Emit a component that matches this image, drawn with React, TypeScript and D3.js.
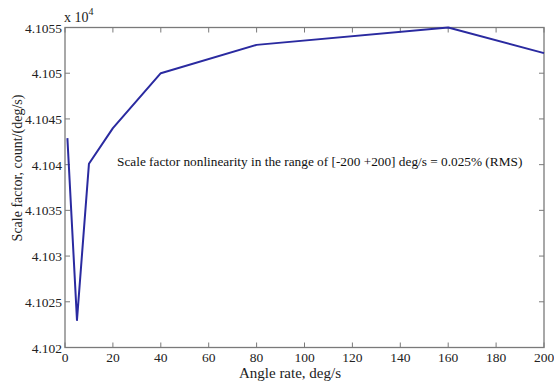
import React from "react";
import * as d3 from "d3";

const rates = [1, 5, 10, 20, 40, 80, 160, 200];
const scaleFactor = [4.10429, 4.1023, 4.10401, 4.1044, 4.105, 4.10531, 4.1055, 4.10522];
const xTicks = [0, 20, 40, 60, 80, 100, 120, 140, 160, 180, 200];
const yTicks = [4.102, 4.1025, 4.103, 4.1035, 4.104, 4.1045, 4.105, 4.1055];
const yTickLabels = ["4.102", "4.1025", "4.103", "4.1035", "4.104", "4.1045", "4.105", "4.1055"];
const annotation = "Scale factor nonlinearity in the range of [-200 +200] deg/s = 0.025% (RMS)";

const W = 554, H = 381;
const M = { left: 65, right: 544, top: 27.5, bottom: 347.5 };

export default function App() {
  const x = d3.scaleLinear().domain([0, 200]).range([M.left, M.right]);
  const y = d3.scaleLinear().domain([4.102, 4.1055]).range([M.bottom, M.top]);
  const line = d3.line<number>().x((_, i) => x(rates[i])).y((d) => y(d));
  const font = "'Liberation Serif', 'Times New Roman', serif";
  const axisColor = "#7a7a7a";
  const tl = 5;
  return (
    <svg width={W} height={H} style={{ position: "absolute", left: 0, top: 0, background: "#fff" }} fontFamily={font}>
      <rect x={M.left} y={M.top} width={M.right - M.left} height={M.bottom - M.top} fill="none" stroke={axisColor} strokeWidth={1.3} />
      {xTicks.map((t) => (
        <g key={"x" + t}>
          <line x1={x(t)} x2={x(t)} y1={M.bottom} y2={M.bottom - tl} stroke={axisColor} strokeWidth={1} />
          <line x1={x(t)} x2={x(t)} y1={M.top} y2={M.top + tl} stroke={axisColor} strokeWidth={1} />
          <text x={x(t)} y={M.bottom + 14} textAnchor="middle" fontSize={13.5} fill="#222">{t}</text>
        </g>
      ))}
      {yTicks.map((t, i) => (
        <g key={"y" + t}>
          <line x1={M.left} x2={M.left + tl} y1={y(t)} y2={y(t)} stroke={axisColor} strokeWidth={1} />
          <line x1={M.right} x2={M.right - tl} y1={y(t)} y2={y(t)} stroke={axisColor} strokeWidth={1} />
          <text x={M.left - 3} y={y(t) + 5} textAnchor="end" fontSize={13.5} fill="#222">{yTickLabels[i]}</text>
        </g>
      ))}
      <text x={M.left - 1} y={M.top - 6} fontSize={14} fill="#222">x 10<tspan dy={-7} fontSize={10}>4</tspan></text>
      <path d={line(scaleFactor) || ""} fill="none" stroke="#2a2aa0" strokeWidth={2} strokeLinejoin="round" />
      <text x={117} y={166} fontSize={13.3} fill="#111">{annotation}</text>
      <text x={290} y={377.5} textAnchor="middle" fontSize={15} fill="#222">Angle rate, deg/s</text>
      <text transform={`translate(22, 168) rotate(-90)`} textAnchor="middle" fontSize={14} fill="#222">Scale factor, count/(deg/s)</text>
    </svg>
  );
}
